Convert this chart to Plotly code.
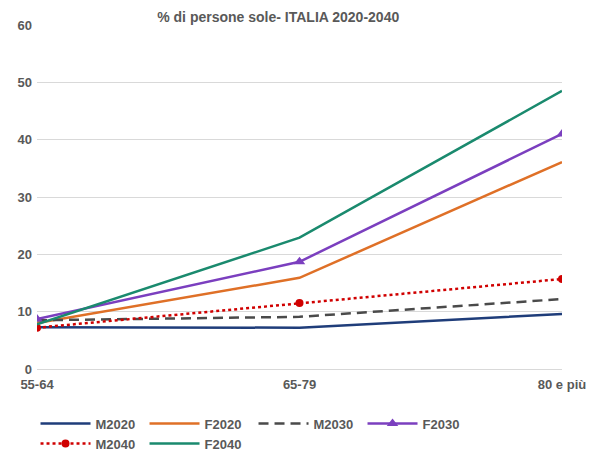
import plotly.graph_objects as go

# Age classes on the x axis
age_groups = ["55-64", "65-79", "80 e più"]

# % of people living alone, by sex and year
m2020 = [7.3, 7.2, 9.6]
f2020 = [8.0, 15.9, 36.1]
m2030 = [8.5, 9.1, 12.2]
f2030 = [8.7, 18.7, 41.0]
m2040 = [7.2, 11.5, 15.7]
f2040 = [7.8, 22.9, 48.5]

y_ticks = [0, 10, 20, 30, 40, 50, 60]

TEXT_COLOR = "#595959"
FONT = "Liberation Sans"

fig = go.Figure()

fig.add_trace(go.Scatter(x=age_groups, y=m2020, name="M2020", mode="lines",
                         line=dict(color="#1f3d7a", width=2.5)))
fig.add_trace(go.Scatter(x=age_groups, y=f2020, name="F2020", mode="lines",
                         line=dict(color="#df7027", width=2.5)))
fig.add_trace(go.Scatter(x=age_groups, y=m2030, name="M2030", mode="lines",
                         line=dict(color="#4a4a4a", width=2.5, dash="10px,6px")))
fig.add_trace(go.Scatter(x=age_groups, y=f2030, name="F2030", mode="lines+markers",
                         line=dict(color="#7b3fbf", width=2.5),
                         marker=dict(symbol="triangle-up", size=10, color="#7b3fbf")))
fig.add_trace(go.Scatter(x=age_groups, y=m2040, name="M2040", mode="lines+markers",
                         line=dict(color="#d00000", width=2.5, dash="dot"),
                         marker=dict(symbol="circle", size=8, color="#d00000")))
fig.add_trace(go.Scatter(x=age_groups, y=f2040, name="F2040", mode="lines",
                         line=dict(color="#1a8a6e", width=2.5)))

fig.update_layout(
    width=592,
    height=454,
    margin=dict(l=37, r=30, t=25, b=85),
    paper_bgcolor="white",
    plot_bgcolor="white",
    font=dict(family=FONT, size=13, color=TEXT_COLOR, weight="bold"),
    title=dict(text="% di persone sole- ITALIA 2020-2040",
               x=0.47, xanchor="center", y=0.962, yanchor="middle",
               font=dict(family=FONT, size=14, color=TEXT_COLOR, weight="bold")),
    xaxis=dict(
        range=[0, 2],
        showgrid=False,
        showline=False,
        zeroline=False,
        ticks="",
        automargin=False,
        ticklabelstandoff=6,
        tickfont=dict(size=13, color=TEXT_COLOR, weight="bold"),
    ),
    yaxis=dict(
        range=[0, 60],
        tickvals=y_ticks,
        showgrid=True,
        gridcolor="#d9d9d9",
        gridwidth=1,
        zeroline=True,
        zerolinecolor="#d9d9d9",
        zerolinewidth=1,
        showline=False,
        ticks="",
        automargin=False,
        ticklabelstandoff=4,
        tickfont=dict(size=13, color=TEXT_COLOR, weight="bold"),
    ),
    legend=dict(
        orientation="h",
        xref="container",
        yref="container",
        x=0.06,
        y=0.1,
        xanchor="left",
        yanchor="top",
        entrywidth=44,
        entrywidthmode="pixels",
        itemwidth=50,
        tracegroupgap=0,
        font=dict(size=13, color=TEXT_COLOR, weight="bold"),
    ),
)

# drop the browser's default page margin so the figure fills the window
fig.write_html("out.html", config={"displayModeBar": False},
               post_script="document.body.style.margin='0';")
